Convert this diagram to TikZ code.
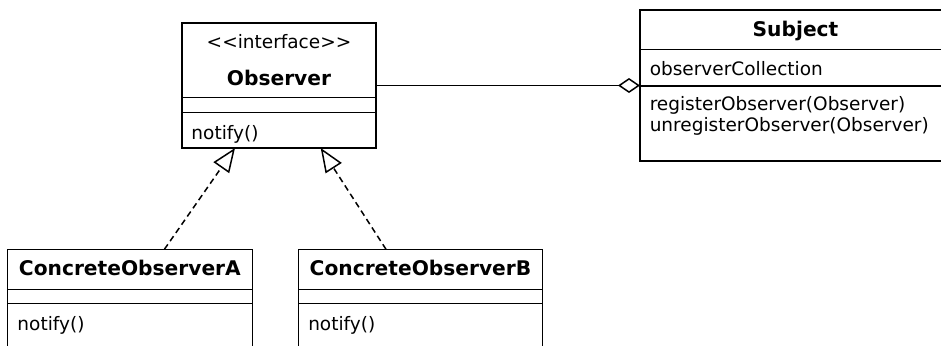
\documentclass[tikz,border=0pt]{standalone}
\usepackage{fontspec}
\setmainfont{DejaVu Sans}
\usetikzlibrary{arrows.meta,calc}
\begin{document}
\begin{tikzpicture}[x=1pt,y=-1pt,line width=1.5pt,
  box/.style={draw,rectangle,inner sep=0pt,outer sep=0pt},
  lbl/.style={anchor=base west,inner sep=0pt,font=\fontsize{18.5}{21}\selectfont},
  ctr/.style={anchor=base,inner sep=0pt,font=\fontsize{18.5}{21}\selectfont},
  ttl/.style={anchor=base,inner sep=0pt,font=\fontsize{20.2}{23}\selectfont\bfseries},
  realize/.style={dash pattern=on 6pt off 4pt,-{Triangle[open,length=24pt,width=19pt]}},
  aggregate/.style={-{Diamond[open,length=22pt,width=15pt]}}]
\useasboundingbox (0,0) rectangle (941,345);
\clip (0,0) rectangle (941,345);
% Observer
\node[box,minimum width=194pt,minimum height=125pt] (obs) at (279,85.5) {};
\draw ($(obs.north west)+(0,74.3)$) -- ($(obs.north east)+(0,74.3)$);
\draw ($(obs.north west)+(0,89.3)$) -- ($(obs.north east)+(0,89.3)$);
\node[ctr] (obsst) at (279,48.3) {<\kern0pt<interface>\kern0pt>};
\node[ttl] (obsname) at (279,85) {Observer};
\node[lbl] (obsop) at (190.7,139) {notify()};
% Subject
\node[box,minimum width=311pt,minimum height=151pt] (subj) at (795.5,85.5) {};
\draw ($(subj.north west)+(0,39.3)$) -- ($(subj.north east)+(0,39.3)$);
\draw ($(subj.north west)+(0,76)$) -- ($(subj.north east)+(0,76)$);
\node[ttl] (subjname) at (795.5,37) {Subject};
\node[lbl] (subjattr) at (649,75) {observerCollection};
\node[lbl] (subjop1) at (649,110.7) {registerObserver(Observer)};
\node[lbl] (subjop2) at (649,131.3) {unregisterObserver(Observer)};
% ConcreteObserverA
\node[box,minimum width=244.8pt,minimum height=120pt] (ca) at (129.9,309.3) {};
\draw ($(ca.north west)+(0,40)$) -- ($(ca.north east)+(0,40)$);
\draw ($(ca.north west)+(0,54)$) -- ($(ca.north east)+(0,54)$);
\node[ttl] (caname) at (129.9,275) {ConcreteObserverA};
\node[lbl] (caop) at (16.7,330) {notify()};
% ConcreteObserverB
\node[box,minimum width=243.6pt,minimum height=120pt] (cb) at (420.5,309.3) {};
\draw ($(cb.north west)+(0,40)$) -- ($(cb.north east)+(0,40)$);
\draw ($(cb.north west)+(0,54)$) -- ($(cb.north east)+(0,54)$);
\node[ttl] (cbname) at (420.5,275) {ConcreteObserverB};
\node[lbl] (cbop) at (307.5,330) {notify()};
% connectors
\draw[aggregate] (obs.east) -- (subj.west);
\draw[realize] ($(ca.north)+(34.5,0)$) -- ($(obs.south)+(-44,0)$);
\draw[realize] ($(cb.north)+(-34.5,0)$) -- ($(obs.south)+(41.7,0)$);
\end{tikzpicture}
\end{document}
